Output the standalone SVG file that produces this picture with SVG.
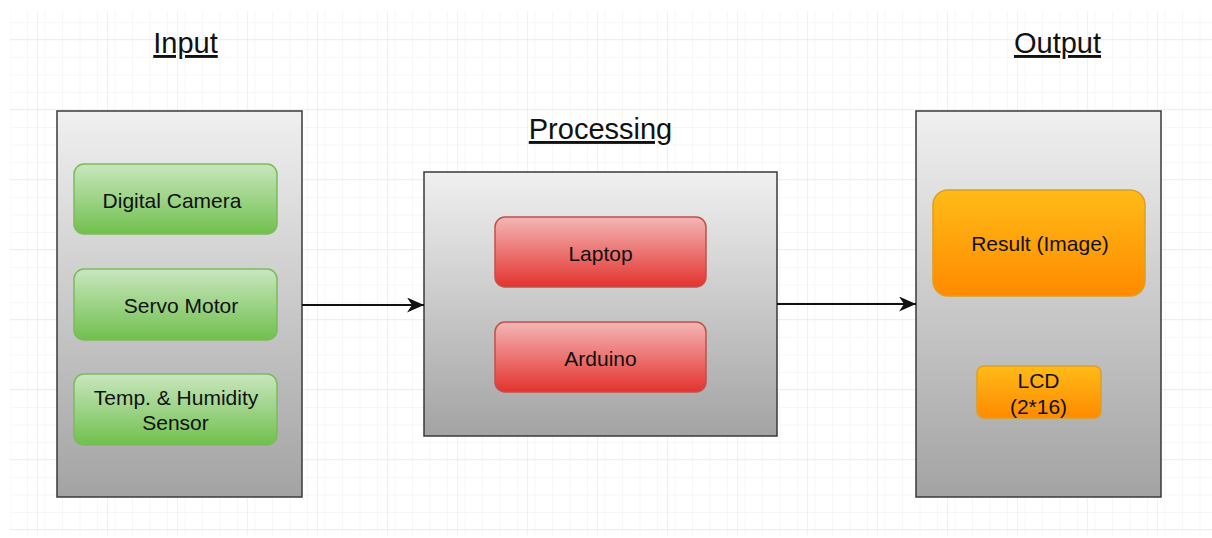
<svg xmlns="http://www.w3.org/2000/svg" width="1212" height="538" viewBox="0 0 1212 538">
<defs>
<pattern id="minor" x="10.5" y="5.5" width="17.5" height="17.5" patternUnits="userSpaceOnUse">
<path d="M17.5 0V17.5M0 17.5H17.5" fill="none" stroke="#f0f0f0" stroke-width="1"/>
</pattern>
<pattern id="major" x="-32" y="-30" width="70" height="70" patternUnits="userSpaceOnUse">
<path d="M70 0V70M0 70H70" fill="none" stroke="#e2e2e2" stroke-width="1"/>
</pattern>
<linearGradient id="gGray" x1="0" y1="0" x2="0" y2="1">
<stop offset="0" stop-color="#f0f0f0"/><stop offset="1" stop-color="#a3a3a3"/>
</linearGradient>
<linearGradient id="gGreen" x1="0" y1="0" x2="0" y2="1">
<stop offset="0" stop-color="#c9e6bf"/><stop offset="1" stop-color="#70c04d"/>
</linearGradient>
<linearGradient id="gRed" x1="0" y1="0" x2="0" y2="1">
<stop offset="0" stop-color="#f4b6b6"/><stop offset="1" stop-color="#e3332e"/>
</linearGradient>
<linearGradient id="gOrange" x1="0" y1="0" x2="0" y2="1">
<stop offset="0" stop-color="#ffbb18"/><stop offset="1" stop-color="#ff8a00"/>
</linearGradient>
<marker id="arr" viewBox="0 0 17 15" refX="17" refY="7.5" markerWidth="17" markerHeight="15" markerUnits="userSpaceOnUse" orient="auto">
<path d="M0 0L17 7.5L0 15L5 7.5Z" fill="#111"/>
</marker>
</defs>
<style>
text{font-family:"Liberation Sans",Arial,sans-serif;fill:#111;text-anchor:middle}
.title{font-size:29px;text-decoration:underline}
.lbl{font-size:21px}
.cont{fill:url(#gGray);stroke:#3a3a3a;stroke-width:1.5}
.green{fill:url(#gGreen);stroke:#7cba5c;stroke-width:1.5}
.red{fill:url(#gRed);stroke:#c0504b;stroke-width:1.5}
.orange{fill:url(#gOrange);stroke:#dca022;stroke-width:1.5}
.edge{stroke:#111;stroke-width:2;fill:none}
</style>
<rect width="1212" height="538" fill="#ffffff"/>
<rect x="10" y="11" width="1202" height="524" fill="url(#minor)"/>
<rect x="10" y="11" width="1202" height="524" fill="url(#major)"/>

<g id="title-input"><text class="title" x="185.5" y="53">Input</text></g>
<g id="title-processing"><text class="title" x="600.5" y="139">Processing</text></g>
<g id="title-output"><text class="title" x="1057.5" y="53">Output</text></g>

<g id="input"><rect class="cont" x="57" y="111" width="245" height="386"/></g>
<g id="processing"><rect class="cont" x="424" y="172" width="353" height="264"/></g>
<g id="output"><rect class="cont" x="916" y="111" width="245" height="386"/></g>

<g id="digital-camera"><rect class="green" x="74" y="164" width="203" height="70" rx="10"/><text class="lbl" x="172" y="208">Digital Camera</text></g>
<g id="servo-motor"><rect class="green" x="74" y="269" width="203" height="71" rx="10"/><text class="lbl" x="181" y="313">Servo Motor</text></g>
<g id="temp-sensor"><rect class="green" x="74" y="374" width="203" height="71" rx="10"/><text class="lbl" x="176" y="405">Temp. &amp; Humidity</text><text class="lbl" x="175.5" y="430">Sensor</text></g>

<g id="laptop"><rect class="red" x="495" y="217" width="211" height="70" rx="10"/><text class="lbl" x="600.5" y="261">Laptop</text></g>
<g id="arduino"><rect class="red" x="495" y="322" width="211" height="70" rx="10"/><text class="lbl" x="600.5" y="366">Arduino</text></g>

<g id="result"><rect class="orange" x="933" y="190" width="212" height="106" rx="15"/><text class="lbl" x="1040" y="251">Result (Image)</text></g>
<g id="lcd"><rect class="orange" x="977" y="366" width="124" height="52" rx="7"/><text class="lbl" x="1038.5" y="388">LCD</text><text class="lbl" x="1038.5" y="414">(2*16)</text></g>

<g id="connectors">
<line class="edge" x1="302" y1="305" x2="424" y2="305" marker-end="url(#arr)"/>
<line class="edge" x1="777" y1="304" x2="916" y2="304" marker-end="url(#arr)"/>
</g>
</svg>
